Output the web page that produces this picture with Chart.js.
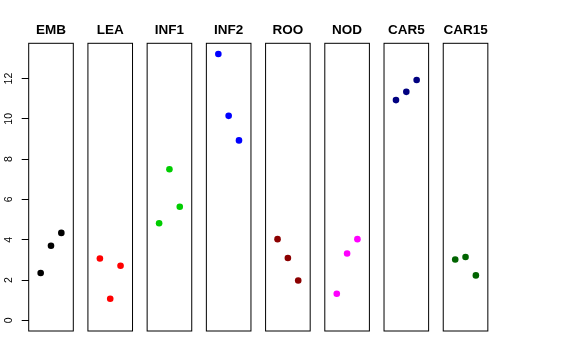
<!DOCTYPE html>
<html>
<head>
<meta charset="utf-8">
<script src="https://cdn.jsdelivr.net/npm/chart.js@4"></script>
<style>
  html, body { margin: 0; padding: 0; background: #fff; }
  #wrap { position: relative; width: 576px; height: 360px; overflow: hidden; }
  #wrap canvas { position: absolute; top: 0; }
</style>
</head>
<body>
<div id="wrap"></div>
<script>
// ---- data ----
const panels = ["EMB", "LEA", "INF1", "INF2", "ROO", "NOD", "CAR5", "CAR15"];
const xIndex = [1, 2, 3];
const EMB   = [2.35, 3.70, 4.34];
const LEA   = [3.07, 1.07, 2.71];
const INF1  = [4.82, 7.50, 5.64];
const INF2  = [13.22, 10.15, 8.93];
const ROO   = [4.03, 3.09, 1.98];
const NOD   = [1.32, 3.32, 4.03];
const CAR5  = [10.93, 11.34, 11.93];
const CAR15 = [3.02, 3.14, 2.23];
const seriesValues = [EMB, LEA, INF1, INF2, ROO, NOD, CAR5, CAR15];
const pointColors = ["#000000", "#FF0000", "#00CD00", "#0000FF", "#8B0000", "#FF00FF", "#000080", "#006400"];
const yTicks = [0, 2, 4, 6, 8, 10, 12];

// ---- layout ----
const H = 360;
const firstLeft = 28.7, pitch = 59.22, boxW = 44.6, margin = 7;
const areaTop = 43.3, areaBottom = 331;
const yMin = -0.53, yMax = 13.75;
const xMin = -0.16, xMax = 4.16;
const FONT = '"Liberation Sans", Arial, Helvetica, sans-serif';

const boxPlugin = {
  id: 'box',
  afterDraw(chart) {
    const a = chart.chartArea, ctx = chart.ctx;
    ctx.save();
    ctx.strokeStyle = '#000';
    ctx.lineWidth = 1;
    ctx.strokeRect(a.left, a.top, a.right - a.left, a.bottom - a.top);
    ctx.restore();
  }
};

const wrap = document.getElementById('wrap');
panels.forEach((name, i) => {
  const showY = i === 0;
  const boxLeft = firstLeft + pitch * i;
  let cLeft, cWidth, padL, padR;
  if (showY) {
    cLeft = 0; cWidth = 80; padL = 0; padR = cWidth - (boxLeft + boxW);
  } else {
    cLeft = Math.round(boxLeft) - margin;
    cWidth = Math.ceil(boxW) + 2 * margin;
    padL = boxLeft - cLeft;
    padR = cWidth - padL - boxW;
  }
  const cv = document.createElement('canvas');
  cv.width = cWidth; cv.height = H;
  cv.style.width = cWidth + 'px'; cv.style.height = H + 'px';
  cv.style.left = cLeft + 'px';
  wrap.appendChild(cv);
  new Chart(cv, {
    type: 'scatter',
    data: {
      datasets: [{
        data: xIndex.map((x, k) => ({ x: x, y: seriesValues[i][k] })),
        backgroundColor: pointColors[i],
        borderColor: pointColors[i],
        pointRadius: 3.3,
        pointBorderWidth: 0
      }]
    },
    options: {
      responsive: false,
      animation: false,
      devicePixelRatio: 1,
      layout: {
        padding: { left: padL, right: padR, top: 0, bottom: H - areaBottom }
      },
      plugins: {
        legend: { display: false },
        tooltip: { enabled: false },
        title: {
          display: true,
          text: name,
          fullSize: !showY,
          color: '#000',
          font: { family: FONT, size: 13.5, weight: 'bold' },
          padding: { top: 22, bottom: areaTop - 22 - 13.5 * 1.2 }
        }
      },
      scales: {
        x: {
          type: 'linear',
          display: false,
          min: xMin, max: xMax
        },
        y: {
          type: 'linear',
          display: showY,
          min: yMin, max: yMax,
          afterBuildTicks(scale) { scale.ticks = yTicks.map(v => ({ value: v })); },
          afterFit(scale) { if (showY) scale.width = firstLeft; },
          border: { display: false },
          grid: { drawOnChartArea: false, drawTicks: true, tickLength: 7, color: '#000', lineWidth: 1 },
          ticks: {
            color: '#000',
            font: { family: FONT, size: 10.5 },
            minRotation: 90, maxRotation: 90,
            crossAlign: 'center',
            padding: 7,
            callback: v => String(v)
          }
        }
      }
    },
    plugins: [boxPlugin]
  });
});
</script>
</body>
</html>
